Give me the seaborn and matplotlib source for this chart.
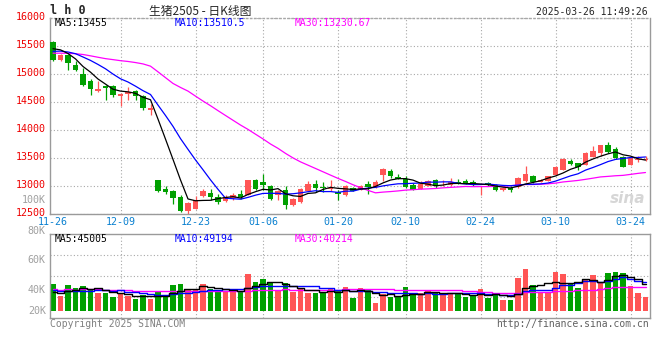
#Daily K-line chart for live hog futures (lh2505)
import numpy as np
import pandas as pd
import matplotlib
matplotlib.use('Agg')
import matplotlib.pyplot as plt
from matplotlib.transforms import ScaledTranslation
import seaborn as sns

#dates shown under the price panel (index of the trading day)
tick_idx = [0, 9, 19, 28, 38, 47, 57, 67, 77]
tick_labels = ['11-26', '12-09', '12-23', '01-06', '01-20', '02-10', '02-24', '03-10', '03-24']

opens = [15570, 15243, 15345, 15166, 15005, 14868, 14696, 14779, 14791, 14600,
         14636, 14690, 14613, 14363, 13113, 12952, 12916, 12797, 12548, 12595,
         12814, 12875, 12797, 12738, 12786, 12863, 12845, 13100, 13064, 12993,
         12832, 12934, 12654, 12707, 12916, 13041, 12988, 12950, 12886, 12832,
         12964, 12934, 13041, 12982, 13189, 13273, 13154, 13125, 13011, 12952,
         12993, 13113, 13030, 13023, 13077, 13089, 13071, 12985, 13054, 13011,
         12921, 12970, 12982, 13082, 13171, 13064, 13095, 13202, 13291, 13452,
         13404, 13368, 13511, 13589, 13737, 13666, 13518, 13380, 13457, 13464]
highs = [15595, 15350, 15360, 15225, 15107, 14911, 14868, 14809, 14809, 14661,
         14768, 14720, 14630, 14470, 13113, 12993, 12934, 12832, 12714, 12814,
         12952, 12946, 12857, 12845, 12875, 12921, 13113, 13125, 13214, 13023,
         12934, 12993, 12791, 12964, 13095, 13100, 13064, 13113, 12934, 13023,
         12982, 13023, 13095, 13100, 13321, 13309, 13214, 13171, 13054, 13082,
         13113, 13125, 13100, 13143, 13125, 13125, 13113, 12995, 13071, 13041,
         12982, 12993, 13161, 13350, 13202, 13130, 13184, 13350, 13500, 13487,
         13410, 13600, 13707, 13737, 13786, 13689, 13529, 13518, 13529, 13541]
lows = [15225, 15230, 15064, 15046, 14791, 14630, 14679, 14541, 14582, 14421,
        14541, 14529, 14363, 14273, 12893, 12857, 12684, 12536, 12505, 12595,
        12804, 12755, 12679, 12714, 12755, 12768, 12845, 12934, 12921, 12755,
        12755, 12595, 12648, 12696, 12904, 12886, 12886, 12904, 12755, 12814,
        12916, 12934, 12857, 12964, 13082, 13143, 13130, 12964, 12921, 12952,
        12993, 12964, 12993, 13005, 13041, 13041, 12993, 12845, 13005, 12904,
        12911, 12893, 12964, 13064, 13054, 13064, 13082, 13202, 13291, 13380,
        13291, 13368, 13511, 13529, 13589, 13487, 13339, 13380, 13421, 13439]
closes = [15243, 15345, 15196, 15077, 14809, 14738, 14732, 14743, 14618, 14643,
          14671, 14600, 14393, 14393, 12916, 12886, 12786, 12559, 12696, 12755,
          12916, 12797, 12707, 12797, 12832, 12797, 13113, 12952, 13011, 12773,
          12916, 12654, 12773, 12952, 13041, 12970, 12957, 12960, 12863, 12993,
          12916, 13005, 12982, 13064, 13309, 13171, 13130, 12982, 12934, 13036,
          13082, 12993, 13040, 13064, 13054, 13054, 13011, 12995, 13011, 12921,
          12964, 12934, 13143, 13214, 13064, 13113, 13171, 13332, 13482, 13393,
          13332, 13589, 13618, 13725, 13607, 13500, 13339, 13500, 13487, 13487]
#volume in thousands of lots
volumes_k = [44.0, 36.2, 43.3, 41.1, 42.7, 40.4, 38.0, 38.0, 35.6, 37.8,
             36.0, 34.0, 36.7, 34.0, 38.9, 36.7, 43.3, 44.0, 40.4, 40.4,
             44.0, 40.4, 40.0, 38.4, 38.4, 39.3, 50.7, 45.3, 47.3, 44.4,
             39.3, 44.4, 38.7, 41.1, 37.8, 37.8, 38.2, 41.3, 39.3, 42.2,
             34.9, 41.3, 40.0, 31.6, 37.1, 35.6, 35.6, 42.2, 37.1, 37.8,
             39.3, 38.4, 36.7, 38.2, 37.1, 35.6, 36.7, 40.4, 34.9, 37.8,
             33.3, 33.3, 48.2, 54.0, 43.3, 38.4, 38.9, 52.2, 50.7, 44.0,
             41.3, 47.1, 50.0, 44.4, 51.6, 52.2, 51.6, 42.9, 38.2, 35.6]

#sessions before the window (estimated), only needed to start the moving averages
prev_closes = [15350, 15250, 15300, 15230, 15450, 15500, 15480, 15150, 15200, 15100,
               15180, 15120, 15600, 15950, 16000, 15900, 14700, 14650, 15450, 15550,
               15300, 15350, 15380, 15400, 15350, 15450, 15520, 15560, 15487]
prev_volumes_k = [41, 40, 42, 39, 41, 40, 43, 40, 39, 41, 42, 40, 41, 39, 40,
                  42, 41, 40, 41, 40.2, 42, 41, 43, 41, 41, 37, 38, 36, 37]

price_ticks = [16000, 15500, 15000, 14500, 14000, 13500, 13000, 12500]
vol_labels = ['100K', '80K', '60K', '40K', '20K']
vol_label_pos = [100000, 79000, 60000, 40000, 26000]

RED = '#FF5555'
GREEN = '#00A000'
BLUE = '#0000FF'
MAGENTA = '#FF00FF'
GRID = '#A8A8A8'
FRAME = '#9A9A9A'

sns.set_theme(style='white')
plt.rcParams['font.family'] = ['DejaVu Sans Mono', 'Noto Sans CJK SC']

n = len(closes)
x = np.arange(n)
df = pd.DataFrame({'x': x, 'open': opens, 'high': highs, 'low': lows,
                   'close': closes, 'vol': np.array(volumes_k) * 1000})
colors = np.where(df['close'] >= df['open'], RED, GREEN)

all_close = pd.Series(prev_closes + closes, dtype=float)
all_vol = pd.Series(prev_volumes_k + volumes_k, dtype=float) * 1000
for w in (5, 10, 30):
    df[f'ma{w}'] = all_close.rolling(w).mean().iloc[-n:].values
    df[f'vma{w}'] = all_vol.rolling(w).mean().iloc[-n:].values

W, H = 660, 360
def fx(p): return p / W
def fy(p): return 1 - p / H

fig = plt.figure(figsize=(6.6, 3.6), dpi=100)
fig.patch.set_facecolor('white')
axp = fig.add_axes([fx(50), fy(214), 600 / W, (214 - 18) / H])
axv = fig.add_axes([fx(50), fy(318), 600 / W, (318 - 234) / H])

#price panel
axp.vlines(df['x'], df['low'], df['high'], colors=colors, lw=0.9, zorder=2)
body = np.maximum((df['close'] - df['open']).abs(), 14)
axp.bar(df['x'], body, bottom=np.minimum(df['open'], df['close']), width=0.78,
        color=colors, lw=0, zorder=3)
for col, c in [('ma30', MAGENTA), ('ma10', BLUE), ('ma5', 'black')]:
    sns.lineplot(data=df, x='x', y=col, ax=axp, color=c, lw=0.9, zorder=4)
axp.set_xlim(-0.4, n - 0.4)
axp.set_ylim(12500, 16000)
axp.set_yticks(price_ticks)
axp.set_yticklabels([str(t) for t in price_ticks], color='#EE0000', fontsize=7.2)
axp.set_xticks(tick_idx)
axp.set_xticklabels(tick_labels, color='#0A80D0', fontsize=7.2)
axp.tick_params(axis='y', length=0, pad=3)
axp.tick_params(axis='x', length=0, pad=2.5)
axp.grid(True, linestyle=(0, (1, 2)), color=GRID, lw=0.8)
axp.get_xgridlines()[0].set_visible(False)
axp.set_xlabel('')
axp.set_ylabel('')
#price labels sit a little above their grid lines
lift = ScaledTranslation(0, 2 / 100, fig.dpi_scale_trans)
for lab in axp.get_yticklabels():
    lab.set_transform(lab.get_transform() + lift)

#volume panel
base = 26000
axv.bar(df['x'], df['vol'] - base, bottom=base, width=0.78, color=colors, lw=0, zorder=2)
for col, c in [('vma30', MAGENTA), ('vma10', BLUE), ('vma5', 'black')]:
    sns.lineplot(data=df, x='x', y=col, ax=axv, color=c, lw=1.0,
                 drawstyle='steps-mid', zorder=4)
axv.set_xlim(-0.4, n - 0.4)
vlo, vhi = 21333, 77333
axv.set_ylim(vlo, vhi)
axv.set_yticks([vlo + f * (vhi - vlo) for f in (0.25, 0.5, 0.75)])
axv.set_yticklabels([])
axv.set_xticks(tick_idx)
axv.set_xticklabels([])
axv.tick_params(axis='both', length=0)
axv.grid(True, linestyle=(0, (1, 2)), color=GRID, lw=0.8)
axv.get_xgridlines()[0].set_visible(False)
axv.set_xlabel('')
axv.set_ylabel('')
for lab, v in zip(vol_labels, vol_label_pos):
    axv.text(-0.007, v, lab, transform=axv.get_yaxis_transform(), ha='right',
             va='center', color='#A0A0A0', fontsize=7.2, clip_on=False)

for ax in (axp, axv):
    for s in ax.spines.values():
        s.set_color(FRAME)
        s.set_linewidth(1)
axp.spines['top'].set_linestyle((0, (1, 2)))
axp.spines['top'].set_color(GRID)

#header and moving average labels
fig.text(fx(50), fy(11), 'l h 0', fontsize=8.5, fontweight='bold', va='center')
fig.text(fx(200), fy(11), '生猪2505 - 日K线图', fontsize=8.5, ha='center', va='center',
         family=['Noto Sans CJK SC', 'DejaVu Sans'])
fig.text(fx(648), fy(12), '2025-03-26 11:49:26', fontsize=7, ha='right', va='center')
fig.text(fx(55), fy(23.5), 'MA5:13455', fontsize=7, color='black', va='center')
fig.text(fx(175), fy(23.5), 'MA10:13510.5', fontsize=7, color=BLUE, va='center')
fig.text(fx(295), fy(23.5), 'MA30:13230.67', fontsize=7, color=MAGENTA, va='center')
fig.text(fx(55), fy(239), 'MA5:45005', fontsize=7, color='black', va='center')
fig.text(fx(175), fy(239), 'MA10:49194', fontsize=7, color=BLUE, va='center')
fig.text(fx(295), fy(239), 'MA30:40214', fontsize=7, color=MAGENTA, va='center')
fig.text(fx(645), fy(198), 'sina', fontsize=11, ha='right', va='center', color='#D6D6D6',
         style='italic', fontweight='bold', family='DejaVu Sans')
fig.text(fx(50), fy(324), 'Copyright 2025 SINA.COM', fontsize=7, color='#808080', va='center')
fig.text(fx(649), fy(324), 'http://finance.sina.com.cn', fontsize=7, color='#606060',
         ha='right', va='center')

plt.savefig('out.png', dpi=100)
plt.close()
